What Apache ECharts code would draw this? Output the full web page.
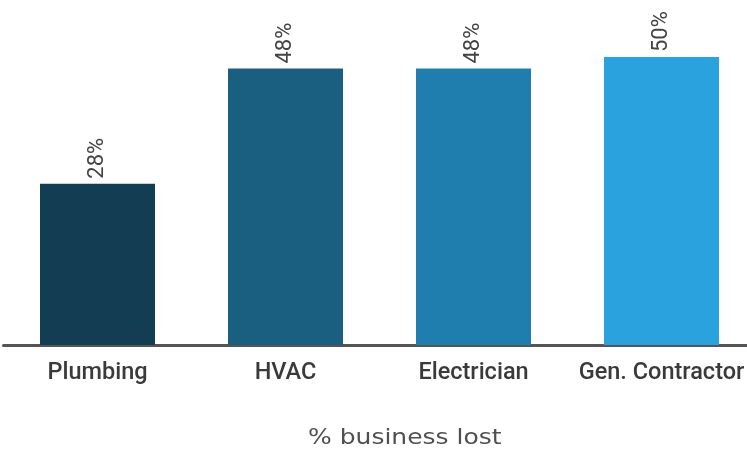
<!DOCTYPE html>
<html>
<head>
<meta charset="utf-8">
<style>
  html, body { margin: 0; padding: 0; background: #ffffff; }
  #chart { width: 747px; height: 451px; }
</style>
<script src="https://cdn.jsdelivr.net/npm/echarts@6/dist/echarts.min.js"></script>
</head>
<body>
<div id="chart"></div>
<script>
// Share of business lost, by trade
const categories = ['Plumbing', 'HVAC', 'Electrician', 'Gen. Contractor'];
const values = [28, 48, 48, 50];
const barColors = ['#133d52', '#1b5f80', '#1f7eae', '#29a2dd'];
const captionText = '% business lost';

const chart = echarts.init(document.getElementById('chart'), null, { renderer: 'canvas' });

chart.setOption({
  animation: false,
  backgroundColor: '#ffffff',
  // caption under the chart, drawn slightly widened
  graphic: [{
    type: 'text',
    x: 308,
    y: 428,
    scaleX: 1.19,
    style: {
      text: captionText,
      font: '21px "DejaVu Sans"',
      fill: '#505050',
      textVerticalAlign: 'top'
    }
  }],
  grid: { left: 3.5, width: 752, top: 57, bottom: 106, outerBoundsMode: 'none' },
  xAxis: {
    type: 'category',
    data: categories,
    axisTick: { show: false },
    axisLine: { lineStyle: { color: '#555555', width: 3 } },
    axisLabel: {
      fontFamily: 'Roboto',
      fontSize: 23.5,
      fontWeight: 500,
      color: '#3a3a3a',
      margin: 16,
      interval: 0,
      hideOverlap: false
    }
  },
  yAxis: {
    type: 'value',
    min: 0,
    max: 50,
    show: false,
    splitLine: { show: false }
  },
  series: [{
    type: 'bar',
    barWidth: 115,
    data: values.map((v, i) => ({ value: v, itemStyle: { color: barColors[i] } })),
    label: {
      show: true,
      position: 'top',
      rotate: 90,
      align: 'left',
      verticalAlign: 'middle',
      distance: 5,
      formatter: p => p.value + '%',
      fontFamily: 'Roboto',
      fontSize: 22,
      color: '#444444'
    }
  }]
});
</script>
</body>
</html>
